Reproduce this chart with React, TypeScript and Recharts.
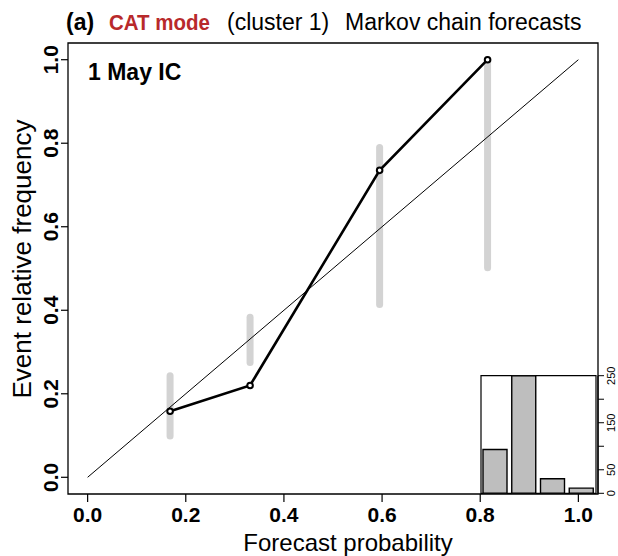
import { ComposedChart, Line, XAxis, YAxis, ReferenceArea, BarChart, Bar } from 'recharts';

// reliability bins: mean forecast probability, observed frequency and 5-95% range
const binCentres = [0.168, 0.331, 0.595, 0.815];
const observedFreq = [0.158, 0.22, 0.735, 1.0];
const rangeLow = [0.099, 0.275, 0.414, 0.502];
const rangeHigh = [0.243, 0.383, 0.79, 1.0];

// number of forecasts falling in each bin (inset histogram)
const forecastCounts = [93, 250, 31, 11];

const probTicks = [0, 0.2, 0.4, 0.6, 0.8, 1.0];
const countTicks = [0, 50, 100, 150, 200, 250];
const countLabels = ['0', '50', '', '150', '', '250'];
const diagonal = [0, 1];
const probDomain = [-0.04, 1.04];

const FONT = '"Liberation Sans", Arial, Helvetica, sans-serif';

const reliability = binCentres.map((x, i) => ({ x, y: observedFreq[i] }));
const perfect = diagonal.map((v) => ({ x: v, y: v }));
const ranges = binCentres.map((x, i) => [
  { x, y: rangeLow[i] },
  { x, y: rangeHigh[i] },
]);
const histData = binCentres.map((b, i) => ({ bin: String(b), n: forecastCounts[i] }));

const XTick = (props: any) => {
  const { x, y, payload } = props;
  return (
    <text x={x} y={y + 18} textAnchor="middle" fontFamily={FONT} fontWeight="bold" fontSize={21} fill="#000">
      {Number(payload.value).toFixed(1)}
    </text>
  );
};

const YTick = (props: any) => {
  const { x, y, payload } = props;
  const bx = x - 1;
  return (
    <text
      x={bx}
      y={y}
      transform={`rotate(-90, ${bx}, ${y})`}
      textAnchor="middle"
      fontFamily={FONT}
      fontWeight="bold"
      fontSize={21}
      fill="#000"
    >
      {Number(payload.value).toFixed(1)}
    </text>
  );
};

const CountTick = (props: any) => {
  const { x, y, index } = props;
  const label = countLabels[index] ?? '';
  if (!label) return null;
  const bx = x + 9;
  return (
    <text
      x={bx}
      y={y}
      transform={`rotate(-90, ${bx}, ${y})`}
      textAnchor="middle"
      fontFamily={FONT}
      fontSize={11}
      fill="#000"
    >
      {label}
    </text>
  );
};

export default function App() {
  return (
    <div style={{ position: 'absolute', left: 0, top: 0, width: 618, height: 556, background: '#fff' }}>
      <ComposedChart width={618} height={556} margin={{ top: 43, right: 20, bottom: 0, left: 0 }}>
        <XAxis
          type="number"
          dataKey="x"
          domain={probDomain}
          ticks={probTicks}
          allowDataOverflow
          axisLine={false}
          tickLine={{ stroke: '#000', strokeWidth: 1.2 }}
          tickSize={8}
          height={62}
          tick={<XTick />}
        />
        <YAxis
          type="number"
          dataKey="y"
          domain={probDomain}
          ticks={probTicks}
          allowDataOverflow
          axisLine={false}
          tickLine={{ stroke: '#000', strokeWidth: 1.2 }}
          tickSize={7}
          width={68}
          tick={<YTick />}
        />
        <ReferenceArea
          x1={probDomain[0]}
          x2={probDomain[1]}
          y1={probDomain[0]}
          y2={probDomain[1]}
          fill="none"
          stroke="#000"
          strokeWidth={1.3}
          ifOverflow="visible"
        />
        {ranges.map((seg, i) => (
          <Line
            key={`range-${i}`}
            data={seg}
            dataKey="y"
            type="linear"
            stroke="#d3d3d3"
            strokeWidth={7}
            strokeLinecap="round"
            dot={false}
            activeDot={false}
            isAnimationActive={false}
          />
        ))}
        <Line
          data={perfect}
          dataKey="y"
          type="linear"
          stroke="#000"
          strokeWidth={1}
          dot={false}
          activeDot={false}
          isAnimationActive={false}
        />
        <Line
          data={reliability}
          dataKey="y"
          type="linear"
          stroke="#000"
          strokeWidth={2.6}
          dot={{ r: 2.8, fill: '#fff', stroke: '#000', strokeWidth: 2 }}
          activeDot={false}
          isAnimationActive={false}
        />
      </ComposedChart>

      <svg width={618} height={556} style={{ position: 'absolute', left: 0, top: 0, pointerEvents: 'none' }}>
        <text x={66} y={30} fontFamily={FONT} fontWeight="bold" fontSize={23} fill="#000">(a)</text>
        <text x={109} y={30} fontFamily={FONT} fontWeight="bold" fontSize={22} fill="#b8292b" textLength={101} lengthAdjust="spacingAndGlyphs">CAT mode</text>
        <text x={227} y={30} fontFamily={FONT} fontSize={23} fill="#000">(cluster 1)</text>
        <text x={345} y={30} fontFamily={FONT} fontSize={23} fill="#000">Markov chain forecasts</text>
        <text x={88} y={80} fontFamily={FONT} fontWeight="bold" fontSize={23} fill="#000">1 May IC</text>
        <text x={348} y={551} textAnchor="middle" fontFamily={FONT} fontSize={24} fill="#000">Forecast probability</text>
        <text x={31} y={259} transform="rotate(-90, 31, 259)" textAnchor="middle" fontFamily={FONT} fontSize={26} fill="#000">
          Event relative frequency
        </text>
      </svg>

      <div style={{ position: 'absolute', left: 470, top: 365 }}>
        <BarChart width={148} height={140} data={histData} margin={{ top: 10.7, right: 0, bottom: 11.7, left: 9 }}>
          <XAxis dataKey="bin" hide padding={{ left: 2, right: 2 }} />
          <YAxis
            orientation="right"
            width={20}
            domain={[0, 250]}
            ticks={countTicks}
            allowDataOverflow
            axisLine={{ stroke: '#000', strokeWidth: 1.2 }}
            tickLine={{ stroke: '#000', strokeWidth: 1 }}
            tickSize={6}
            tick={<CountTick />}
          />
          <ReferenceArea y1={0} y2={250} fill="#fff" fillOpacity={1} stroke="#000" strokeWidth={1.2} ifOverflow="visible" />
          <Bar dataKey="n" barSize={24} fill="#bebebe" stroke="#000" strokeWidth={1.4} isAnimationActive={false} />
        </BarChart>
      </div>
    </div>
  );
}
